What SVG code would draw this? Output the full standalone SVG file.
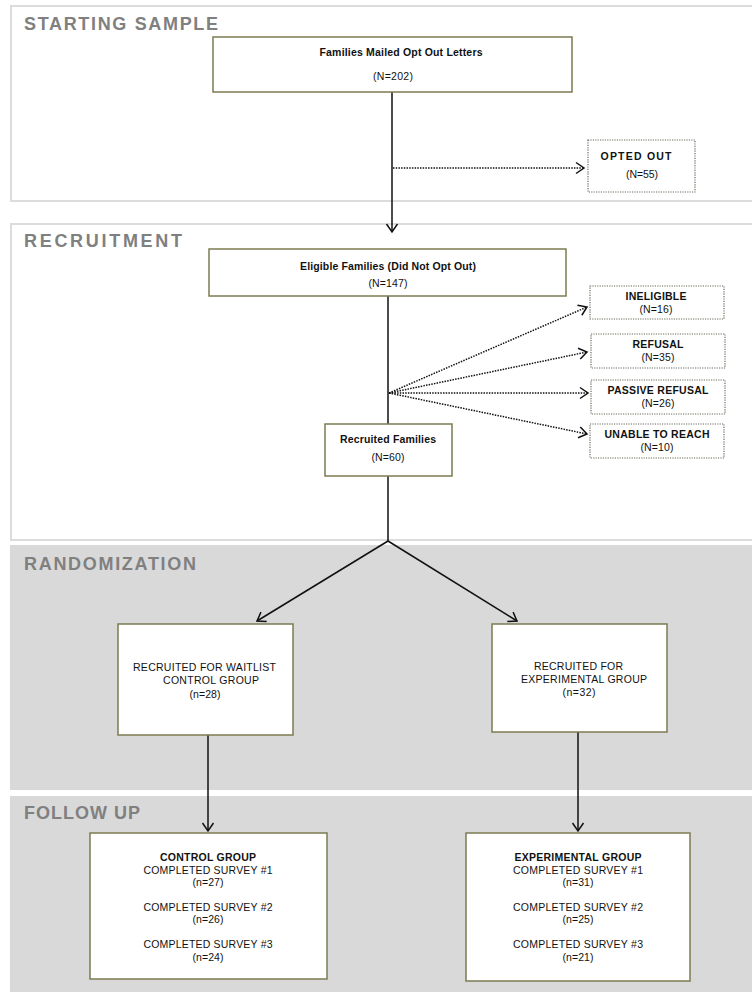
<svg xmlns="http://www.w3.org/2000/svg" width="752" height="992" viewBox="0 0 752 992">
<defs>
<style>
.panel{fill:#ffffff;stroke:#dcdcdc;stroke-width:2}
.gpanel{fill:#d9d9d9;stroke:none}
.title{font-family:"Liberation Sans",Arial,sans-serif;font-size:18px;font-weight:bold;fill:#808080;letter-spacing:2px}
.box{fill:#ffffff;stroke:#7c7c52;stroke-width:1.5}
.dbox{fill:#ffffff;stroke:#6a6a5a;stroke-width:1.2;stroke-dasharray:1.2 1.2}
.t{font-family:"Liberation Sans",Arial,sans-serif;font-size:10.5px;fill:#111111;text-anchor:middle}
.b{font-weight:bold}
.ln{fill:none;stroke:#111111;stroke-width:1.5}
.dl{fill:none;stroke:#111111;stroke-width:1.5;stroke-dasharray:1.5 1.2}
</style>
<marker id="arr" markerUnits="userSpaceOnUse" markerWidth="12" markerHeight="14" refX="9" refY="6" orient="auto" overflow="visible">
<path d="M1,0.5 L9,6 L1,11.5" fill="none" stroke="#111111" stroke-width="1.5" stroke-dasharray="none"/>
</marker>
</defs>

<g id="panels">
<rect class="panel" x="11" y="6" width="760" height="195"/>
<rect class="panel" x="11" y="224" width="760" height="316"/>
<rect class="gpanel" x="10" y="545" width="760" height="245"/>
<rect class="gpanel" x="10" y="796" width="760" height="200"/>
<text class="title" x="24" y="30" textLength="196">STARTING SAMPLE</text>
<text class="title" x="24" y="247" textLength="160">RECRUITMENT</text>
<text class="title" x="24" y="570" textLength="174">RANDOMIZATION</text>
<text class="title" x="24" y="819" textLength="118">FOLLOW UP</text>
</g>

<g id="connectors">
<line class="ln" x1="392" y1="92" x2="392" y2="232" marker-end="url(#arr)"/>
<line class="dl" x1="393" y1="168" x2="584" y2="168" marker-end="url(#arr)"/>
<line class="ln" x1="388" y1="296" x2="388" y2="424"/>
<line class="dl" x1="389" y1="393" x2="587" y2="307" marker-end="url(#arr)"/>
<line class="dl" x1="389" y1="393" x2="587" y2="352" marker-end="url(#arr)"/>
<line class="dl" x1="389" y1="393" x2="588" y2="393" marker-end="url(#arr)"/>
<line class="dl" x1="389" y1="393" x2="587" y2="434" marker-end="url(#arr)"/>
<line class="ln" x1="388" y1="476" x2="388" y2="541"/>
<line class="ln" x1="388" y1="541" x2="257" y2="621" marker-end="url(#arr)"/>
<line class="ln" x1="388" y1="541" x2="517" y2="621" marker-end="url(#arr)"/>
<line class="ln" x1="208" y1="735" x2="208" y2="831" marker-end="url(#arr)"/>
<line class="ln" x1="578" y1="732" x2="578" y2="831" marker-end="url(#arr)"/>
</g>

<g id="node-mailed">
<rect class="box" x="213" y="37" width="359" height="55"/>
<text class="t b" x="401" y="56" textLength="163">Families Mailed Opt Out Letters</text>
<text class="t" x="393" y="80" textLength="40">(N=202)</text>
</g>

<g id="node-opted-out">
<rect class="dbox" x="588" y="140" width="107" height="52"/>
<text class="t b" x="636" y="160" textLength="71">OPTED OUT</text>
<text class="t" x="642" y="178" textLength="32">(N=55)</text>
</g>

<g id="node-eligible">
<rect class="box" x="209" y="249" width="357" height="47"/>
<text class="t b" x="388" y="270" textLength="176">Eligible Families (Did Not Opt Out)</text>
<text class="t" x="388" y="287" textLength="39">(N=147)</text>
</g>

<g id="node-ineligible">
<rect class="dbox" x="590" y="286" width="134" height="33"/>
<text class="t b" x="656" y="300" textLength="61">INELIGIBLE</text>
<text class="t" x="656" y="313" textLength="33">(N=16)</text>
</g>

<g id="node-refusal">
<rect class="dbox" x="591" y="334" width="134" height="34"/>
<text class="t b" x="658" y="348" textLength="51">REFUSAL</text>
<text class="t" x="658" y="361" textLength="33">(N=35)</text>
</g>

<g id="node-passive">
<rect class="dbox" x="591" y="380" width="134" height="34"/>
<text class="t b" x="658" y="394" textLength="101">PASSIVE REFUSAL</text>
<text class="t" x="658" y="407" textLength="33">(N=26)</text>
</g>

<g id="node-unable">
<rect class="dbox" x="590" y="424" width="134" height="34"/>
<text class="t b" x="657" y="438" textLength="105">UNABLE TO REACH</text>
<text class="t" x="657" y="451" textLength="33">(N=10)</text>
</g>

<g id="node-recruited">
<rect class="box" x="325" y="424" width="127" height="52"/>
<text class="t b" x="388" y="443" textLength="96">Recruited Families</text>
<text class="t" x="388" y="461" textLength="33">(N=60)</text>
</g>

<g id="node-rand-control">
<rect class="box" x="118" y="624" width="175" height="111"/>
<text class="t" x="204.5" y="671" textLength="143">RECRUITED FOR WAITLIST</text>
<text class="t" x="211" y="684" textLength="96">CONTROL GROUP</text>
<text class="t" x="205" y="698" textLength="31">(n=28)</text>
</g>

<g id="node-rand-experimental">
<rect class="box" x="492" y="624" width="175" height="108"/>
<text class="t" x="578.5" y="670" textLength="89">RECRUITED FOR</text>
<text class="t" x="584" y="683" textLength="126">EXPERIMENTAL GROUP</text>
<text class="t" x="579" y="696" textLength="33">(n=32)</text>
</g>

<g id="node-fu-control">
<rect class="box" x="90" y="833" width="237" height="146"/>
<text class="t b" x="208" y="861" textLength="96">CONTROL GROUP</text>
<text class="t" x="208" y="874" textLength="129">COMPLETED SURVEY #1</text>
<text class="t" x="208" y="886" textLength="31">(n=27)</text>
<text class="t" x="208" y="911" textLength="129">COMPLETED SURVEY #2</text>
<text class="t" x="208" y="923" textLength="31">(n=26)</text>
<text class="t" x="208" y="948" textLength="129">COMPLETED SURVEY #3</text>
<text class="t" x="208" y="961" textLength="31">(n=24)</text>
</g>

<g id="node-fu-experimental">
<rect class="box" x="466" y="833" width="224" height="148"/>
<text class="t b" x="578" y="861" textLength="127">EXPERIMENTAL GROUP</text>
<text class="t" x="578" y="874" textLength="130">COMPLETED SURVEY #1</text>
<text class="t" x="578" y="886" textLength="31">(n=31)</text>
<text class="t" x="578" y="911" textLength="130">COMPLETED SURVEY #2</text>
<text class="t" x="578" y="923" textLength="31">(n=25)</text>
<text class="t" x="578" y="948" textLength="130">COMPLETED SURVEY #3</text>
<text class="t" x="578" y="961" textLength="31">(n=21)</text>
</g>
</svg>
